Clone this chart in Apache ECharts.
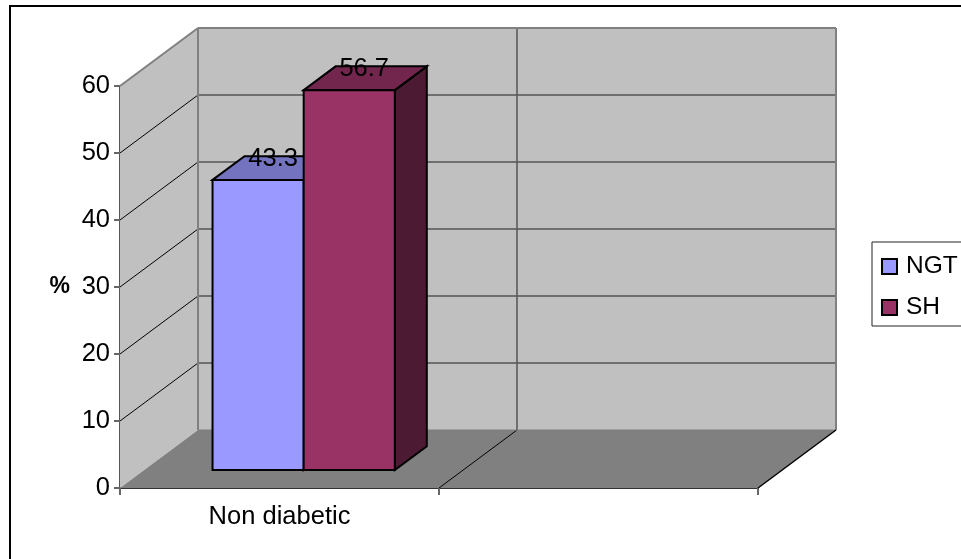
<!DOCTYPE html>
<html>
<head>
<meta charset="utf-8">
<style>html,body{margin:0;padding:0;background:#fff}#chart{width:961px;height:559px}</style>
<script src="https://cdn.jsdelivr.net/npm/echarts@6/dist/echarts.min.js"></script>
</head>
<body>
<div id="chart"></div>
<script>
// Chart data
const categories = ['Non diabetic', ''];
const yTicks = [0, 10, 20, 30, 40, 50, 60];
const ngtValues = [43.3];
const shValues = [56.7];

// Pseudo-3D projection: offset from the front plane to the back wall
const DEPTH_X = 78, DEPTH_Y = -58;
const BAR_INSET = 0.31, BAR_DEPTH = 0.41;
const FONT = '"Liberation Sans", Arial, sans-serif';

const chart = echarts.init(document.getElementById('chart'), null, { renderer: 'canvas' });

function poly(points, fill, stroke, lineWidth, z2) {
  return {
    type: 'polygon', z2: z2 || 0,
    shape: { points },
    style: { fill: fill, stroke: stroke || null, lineWidth: lineWidth || 0 }
  };
}
function seg(a, b, stroke, lineWidth, z2) {
  return {
    type: 'line', z2: z2 || 1,
    shape: { x1: a[0], y1: a[1], x2: b[0], y2: b[1] },
    style: { stroke, lineWidth }
  };
}

// Walls, floor and gridlines, all projected from the cartesian scales
function renderRoom(params, api) {
  const dx = DEPTH_X, dy = DEPTH_Y;
  const x0 = api.coord([0, 0])[0] - api.size([1, 0])[0] / 2;
  const x1 = x0 + api.size([1, 0])[0] * categories.length;
  const yBase = api.coord([0, 0])[1];
  const yTop = api.coord([0, yTicks[yTicks.length - 1]])[1];
  const kids = [
    poly([[x0, yTop], [x0 + dx, yTop + dy], [x0 + dx, yBase + dy], [x0, yBase]], '#C0C0C0'),
    poly([[x0 + dx, yTop + dy], [x1 + dx, yTop + dy], [x1 + dx, yBase + dy], [x0 + dx, yBase + dy]], '#C0C0C0'),
    poly([[x0, yBase], [x1, yBase], [x1 + dx, yBase + dy], [x0 + dx, yBase + dy]], '#808080')
  ];
  yTicks.forEach(function (t) {
    const y = api.coord([0, t])[1];
    if (t > 0 && t < yTicks[yTicks.length - 1]) {
      kids.push(seg([x0, y], [x0 + dx, y + dy], '#000', 1));
      kids.push(seg([x0 + dx, y + dy], [x1 + dx, y + dy], '#555', 1.5));
    }
  });
  // category divider on the floor and back wall
  const xMid = x0 + api.size([1, 0])[0];
  kids.push(seg([xMid, yBase], [xMid + dx, yBase + dy], '#000', 1));
  kids.push(seg([xMid + dx, yBase + dy], [xMid + dx, yTop + dy], '#555', 1.5));
  // room outline
  kids.push(seg([x0, yTop], [x0 + dx, yTop + dy], '#808080', 2, 2));
  kids.push(seg([x0 + dx, yTop + dy], [x1 + dx, yTop + dy], '#808080', 2, 2));
  kids.push(seg([x0 + dx, yTop + dy], [x0 + dx, yBase + dy], '#808080', 2, 2));
  kids.push(seg([x1 + dx, yTop + dy], [x1 + dx, yBase + dy], '#808080', 2, 2));
  kids.push(seg([x0 + dx, yBase + dy], [x1 + dx, yBase + dy], '#808080', 1, 2));
  kids.push(seg([x1, yBase], [x1 + dx, yBase + dy], '#000', 1.5, 2));
  return { type: 'group', children: kids };
}

// A 3D bar; index -1 sits left of the band centre, index 0 right of it
function barRenderer(index, front, top, side) {
  return function (params, api) {
    const cat = api.value(0), val = api.value(1);
    const band = api.size([1, 0])[0];
    const w = band / 3.5;
    const ox = DEPTH_X * BAR_INSET, oy = DEPTH_Y * BAR_INSET;
    const bx = DEPTH_X * BAR_DEPTH, by = DEPTH_Y * BAR_DEPTH;
    const base = api.coord([cat, 0]);
    const head = api.coord([cat, val]);
    const l = base[0] + index * w + ox, r = l + w;
    const yb = base[1] + oy, yt = head[1] + oy;
    const edge = { stroke: '#000', lw: 2 };
    return {
      type: 'group',
      children: [
        poly([[r, yt], [r + bx, yt + by], [r + bx, yb + by], [r, yb]], side, edge.stroke, edge.lw),
        poly([[l, yt], [l + bx, yt + by], [r + bx, yt + by], [r, yt]], top, edge.stroke, edge.lw),
        poly([[l, yt], [r, yt], [r, yb], [l, yb]], front, edge.stroke, edge.lw),
        {
          type: 'text', z2: 10,
          style: {
            text: String(val), x: (l + r) / 2 + bx / 2 - 1, y: yt + by + 3,
            align: 'center', verticalAlign: 'middle',
            fill: '#000', font: '25.5px ' + FONT
          }
        }
      ]
    };
  };
}

chart.setOption({
  animation: false,
  backgroundColor: '#fff',
  textStyle: { fontFamily: FONT },
  grid: { left: 120, top: 86, width: 638, height: 402, containLabel: false },
  graphic: [{
    type: 'rect', silent: true, z: -10,
    shape: { x: 10, y: 6, width: 1000, height: 600 },
    style: { fill: 'none', stroke: '#000', lineWidth: 2 }
  }],
  legend: {
    data: ['NGT', 'SH'],
    left: 872, top: 242,
    orient: 'vertical',
    padding: [12, 14, 6, 9],
    itemWidth: 15, itemHeight: 15, itemGap: 16,
    icon: 'rect',
    backgroundColor: '#fff',
    borderColor: '#222', borderWidth: 1,
    selectedMode: false,
    itemStyle: { borderColor: '#000', borderWidth: 2 },
    textStyle: { fontSize: 24.5, color: '#000', fontFamily: FONT, padding: [0, 0, 0, 4] }
  },
  xAxis: {
    type: 'category',
    data: categories,
    axisLine: { lineStyle: { color: '#333', width: 2 } },
    axisTick: { show: true, length: 7, alignWithLabel: false, lineStyle: { color: '#666', width: 2 } },
    axisLabel: { fontSize: 25.5, color: '#000', margin: 16, interval: 0 },
    splitLine: { show: false }
  },
  yAxis: {
    type: 'value',
    min: 0, max: 60, interval: 10,
    name: '%',
    nameLocation: 'middle', nameRotate: 0, nameGap: 50,
    nameTextStyle: { fontSize: 23, fontWeight: 'bold', color: '#000', padding: [3, 0, 0, 0] },
    axisLine: { show: true, lineStyle: { color: '#555', width: 2 } },
    axisTick: { show: true, length: 6, lineStyle: { color: '#666', width: 2 } },
    axisLabel: { fontSize: 25.5, color: '#000', margin: 10, padding: [3, 0, 0, 0] },
    splitLine: { show: false }
  },
  series: [
    {
      type: 'custom', name: 'room', z: 1, clip: false, silent: true,
      renderItem: renderRoom,
      data: [[0, 0]]
    },
    {
      type: 'custom', name: 'NGT', z: 3, clip: false,
      itemStyle: { color: '#9999FF' },
      renderItem: barRenderer(-1, '#9999FF', '#7373BF', '#4D4D80'),
      data: ngtValues.map(function (v, i) { return [i, v]; })
    },
    {
      type: 'custom', name: 'SH', z: 4, clip: false,
      itemStyle: { color: '#993366' },
      renderItem: barRenderer(0, '#993366', '#73264D', '#4D1A33'),
      data: shValues.map(function (v, i) { return [i, v]; })
    }
  ]
});
</script>
</body>
</html>
